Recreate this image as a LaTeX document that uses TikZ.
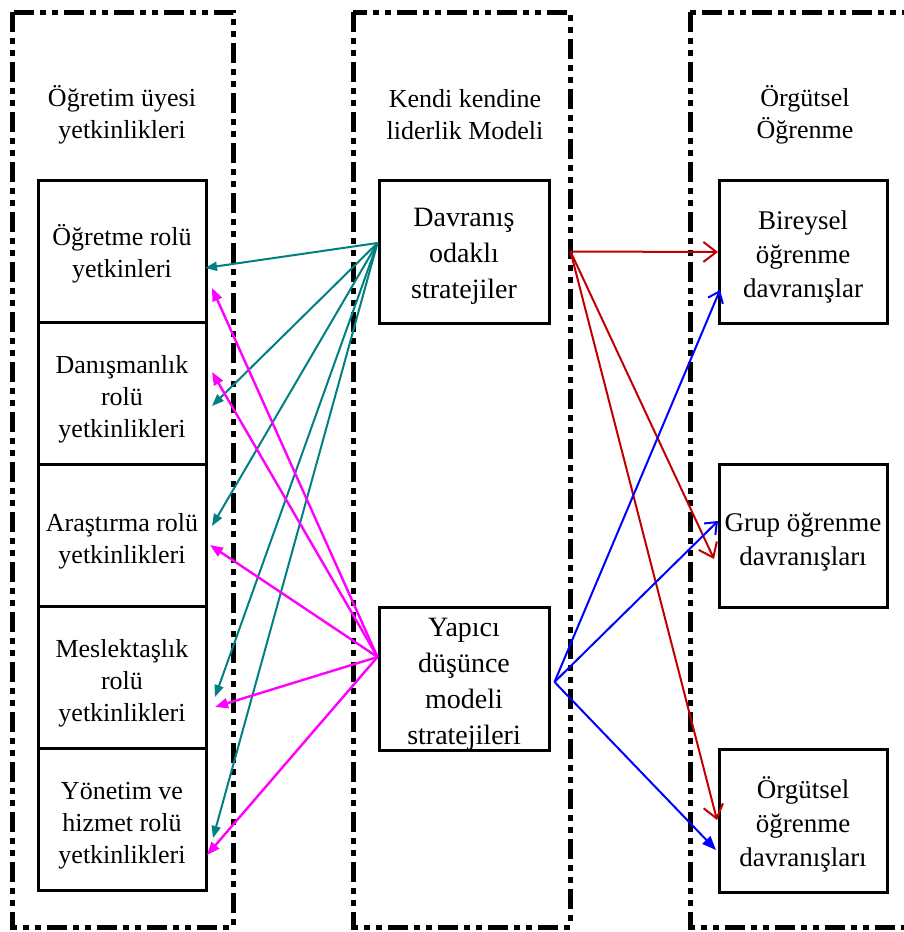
\documentclass[tikz,border=0pt]{standalone}
\usepackage{fontspec}
\setmainfont{Liberation Serif}
\usetikzlibrary{arrows.meta}
\definecolor{tealline}{RGB}{0,128,128}
\definecolor{redline}{RGB}{192,0,0}
\definecolor{pinkline}{RGB}{255,0,255}
\definecolor{blueline}{RGB}{0,0,255}
\newcommand{\topstrut}[1][15pt]{\rule{0pt}{#1}}
\tikzset{%
    frame/.style={line width=2.5pt, dash pattern=on 10pt off 3pt on 3pt off 3pt on 3pt off 3pt},
    head/.style={align=center, font=\fontsize{13}{16}\selectfont},
    lcell/.style={draw, line width=1.5pt, minimum width=84pt, minimum height=71pt,
        inner sep=0pt, align=center, font=\fontsize{13}{16}\selectfont},
    mcell/.style={draw, line width=1.5pt, minimum width=85pt, minimum height=71.5pt,
        inner sep=0pt, align=center, font=\fontsize{14}{18}\selectfont},
    rcell/.style={draw, line width=1.5pt, minimum width=84pt, minimum height=71.5pt,
        inner sep=0pt, align=center, font=\fontsize{13.5}{17}\selectfont},
    tealarr/.style={tealline, line width=1pt, -{Triangle[length=6pt,width=4.5pt]}},
    pinkarr/.style={pinkline, line width=1.2pt, -{Triangle[length=6.5pt,width=5pt]}},
    redarr/.style={redline, line width=1pt, -{Straight Barb[length=6.5pt,width=10pt]}},
    bluearr/.style={blueline, line width=1pt, -{Straight Barb[length=5pt,width=8pt]}}
}

\begin{document}
\begin{tikzpicture}[x=0.5pt,y=-0.5pt]
    \useasboundingbox (0,0) rectangle (904,932);

    % outer frames
    \draw[frame] (12,12) rectangle (233,927);
    \draw[frame] (353,12) rectangle (570,927);
    \draw[frame] (690,12) rectangle (916,927);

    \node[head] (h1) at (122,115) {Öğretim üyesi\\yetkinlikleri};
    \node[head] (h2) at (465,115) {Kendi kendine\\liderlik Modeli};
    \node[head] (h3) at (805,115) {Örgütsel\\Öğrenme};

    % left column
    \node[lcell] (ogr) at (122,251) {\topstrut[13pt]Öğretme rolü\\yetkinleri};
    \node[lcell] (dan) at (122,393) {\topstrut Danışmanlık\\rolü\\yetkinlikleri};
    \node[lcell] (ara) at (122,535) {\topstrut Araştırma rolü\\yetkinlikleri};
    \node[lcell] (mes) at (122,677) {\topstrut Meslektaşlık\\rolü\\yetkinlikleri};
    \node[lcell] (yon) at (122,819) {\topstrut Yönetim ve\\hizmet rolü\\yetkinlikleri};

    % middle column
    \node[mcell] (dav) at (464,251.5) {\topstrut[14pt]Davranış\\odaklı\\stratejiler};
    \node[mcell] (yap) at (464,679) {\topstrut[14pt]Yapıcı\\düşünce\\modeli\\stratejileri};

    % right column
    \node[rcell] (bir) at (803,251.5) {\topstrut Bireysel\\öğrenme\\davranışlar};
    \node[rcell] (grp) at (803,536) {\topstrut Grup öğrenme\\davranışları};
    \node[rcell] (org) at (803,820.5) {\topstrut Örgütsel\\öğrenme\\davranışları};

    % arrow ends
    \coordinate (t1) at (205,268);
    \coordinate (t2) at (212,406);
    \coordinate (t3) at (212,526);
    \coordinate (t4) at (215,697);
    \coordinate (t5) at (213,838);
    \coordinate (m1) at (212,288);
    \coordinate (m2) at (212,372);
    \coordinate (m3) at (210,545);
    \coordinate (m4) at (215,707);
    \coordinate (m5) at (207,855);
    \coordinate (r1) at (718,252);
    \coordinate (r2) at (714,559);
    \coordinate (r3) at (717,820);
    \coordinate (b1) at (720,290);
    \coordinate (b2) at (718,521);
    \coordinate (b3) at (716,850);

    \foreach \e in {t1,t2,t3,t4,t5}
        \draw[tealarr] ([yshift=4.25pt]dav.west) -- (\e);
    \foreach \e in {m1,m2,m3,m4,m5}
        \draw[pinkarr] ([yshift=11pt]yap.west) -- (\e);
    \foreach \e in {r1,r2,r3}
        \draw[redarr] ([xshift=10pt]dav.east) -- (\e);
    \draw[bluearr] ([xshift=2pt,yshift=-1.5pt]yap.east) -- (b1);
    \draw[bluearr] ([xshift=2pt,yshift=-1.5pt]yap.east) -- (b2);
    \draw[blueline, line width=1pt, -{Triangle[length=7pt,width=5.5pt]}]
        ([xshift=2pt,yshift=-1.5pt]yap.east) -- (b3);
\end{tikzpicture}
\end{document}
